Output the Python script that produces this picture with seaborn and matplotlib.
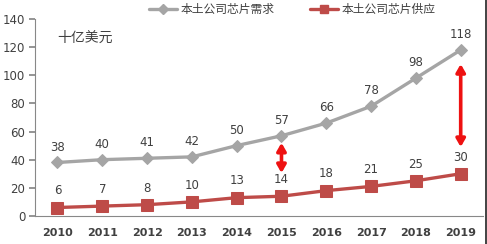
import matplotlib
matplotlib.use("Agg")
import matplotlib.pyplot as plt
from matplotlib.lines import Line2D
import seaborn as sns
import pandas as pd
import numpy as np

years = ["2010", "2011", "2012", "2013", "2014", "2015", "2016", "2017", "2018", "2019"]
demand = [38, 40, 41, 42, 50, 57, 66, 78, 98, 118]
supply = [6, 7, 8, 10, 13, 14, 18, 21, 25, 30]
demand_name = "本土公司芯片需求"
supply_name = "本土公司芯片供应"
unit_text = "十亿美元"
y_ticks = [0, 20, 40, 60, 80, 100, 120, 140]

sns.set_theme(style="white")
plt.rcParams['font.family'] = ['Noto Sans CJK SC', 'DejaVu Sans']

df = pd.DataFrame({"year": years * 2,
                   "value": demand + supply,
                   "series": [demand_name] * len(years) + [supply_name] * len(years)})

grey = "#A5A5A5"
red = "#BE4B48"
txt = "#404040"

fig = plt.figure(figsize=(4.87, 2.44), dpi=100)
ax = fig.add_axes([0.072, 0.115, 0.92, 0.807])

sns.lineplot(data=df[df.series == demand_name], x="year", y="value", ax=ax,
             color=grey, lw=2.4, marker="D", markersize=6, markeredgecolor=grey,
             sort=False)
sns.lineplot(data=df[df.series == supply_name], x="year", y="value", ax=ax,
             color=red, lw=2.4, marker="s", markersize=8, markeredgecolor=red,
             sort=False)

for i, v in enumerate(demand):
    ax.annotate(str(v), (i, v), xytext=(0, 11), textcoords="offset points",
                ha="center", va="center", fontsize=8.5, color=txt, family="DejaVu Sans")
for i, v in enumerate(supply):
    ax.annotate(str(v), (i, v), xytext=(0, 12), textcoords="offset points",
                ha="center", va="center", fontsize=8.5, color=txt, family="DejaVu Sans")

# red double arrows
for xpos, y0, y1 in [(5, 30.5, 52), (9, 49, 108)]:
    ax.annotate("", xy=(xpos, y0), xytext=(xpos, y1),
                arrowprops=dict(arrowstyle="<|-|>,head_length=0.38,head_width=0.22",
                                color="#EE1111", lw=2.6, shrinkA=0, shrinkB=0))

ax.text(0.05, 0.905, unit_text, transform=ax.transAxes, fontsize=10, color=txt,
        ha="left", va="center")

ax.set_xlim(-0.5, len(years) - 0.5)
ax.set_ylim(0, 140)
ax.set_yticks(y_ticks)
ax.set_yticklabels([str(t) for t in y_ticks], fontsize=8.5, color=txt, family="DejaVu Sans")
ax.set_xticks(range(len(years)))
ax.set_xticklabels(years, fontsize=8, color=txt, fontweight="bold", family="DejaVu Sans")
ax.set_xticks(np.arange(-0.5, len(years)), minor=True)
ax.tick_params(axis="x", which="major", length=0, pad=9)
ax.tick_params(axis="x", which="minor", length=4, color="#888888", direction="out")
ax.tick_params(axis="y", length=4, color="#888888", direction="out", left=True, pad=3)
ax.set_xlabel("")
ax.set_ylabel("")
for s in ["top", "right"]:
    ax.spines[s].set_visible(False)
for s in ["left", "bottom"]:
    ax.spines[s].set_color("#888888")
    ax.spines[s].set_linewidth(0.8)

handles = [Line2D([], [], color=grey, lw=2.4, marker="D", markersize=5),
           Line2D([], [], color=red, lw=2.4, marker="s", markersize=6)]
fig.legend(handles, [demand_name, supply_name], loc="center", bbox_to_anchor=(0.60, 0.962),
           ncol=2, frameon=False, fontsize=8.5, handlelength=2.4, handletextpad=0.3,
           columnspacing=3.0, labelcolor=txt)

fig.add_artist(Line2D([0.997, 0.997], [0, 1], transform=fig.transFigure, color="#222222", lw=1.2))

fig.savefig("out.png", dpi=100)
